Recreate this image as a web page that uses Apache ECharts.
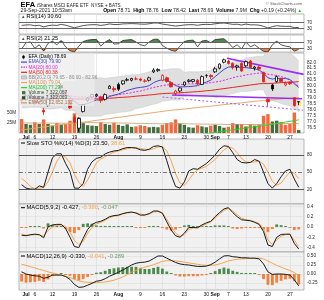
<!DOCTYPE html>
<html>
<head>
<meta charset="utf-8">
<script src="https://cdn.jsdelivr.net/npm/echarts@6.0.0/dist/echarts.min.js"></script>
<style>
html,body{margin:0;padding:0;background:#ffffff;}
#chart{width:324px;height:300px;}
</style>
</head>
<body>
<div id="chart"></div>
<script>
// ---------------- data ----------------
const dates = ['2021-06-30','2021-07-01','2021-07-02','2021-07-06','2021-07-07','2021-07-08','2021-07-09','2021-07-12','2021-07-13','2021-07-14','2021-07-15','2021-07-16','2021-07-19','2021-07-20','2021-07-21','2021-07-22','2021-07-23','2021-07-26','2021-07-27','2021-07-28','2021-07-29','2021-07-30','2021-08-02','2021-08-03','2021-08-04','2021-08-05','2021-08-06','2021-08-09','2021-08-10','2021-08-11','2021-08-12','2021-08-13','2021-08-16','2021-08-17','2021-08-18','2021-08-19','2021-08-20','2021-08-23','2021-08-24','2021-08-25','2021-08-26','2021-08-27','2021-08-30','2021-08-31','2021-09-01','2021-09-02','2021-09-03','2021-09-07','2021-09-08','2021-09-09','2021-09-10','2021-09-13','2021-09-14','2021-09-15','2021-09-16','2021-09-17','2021-09-20','2021-09-21','2021-09-22','2021-09-23','2021-09-24','2021-09-27','2021-09-28','2021-09-29'];
const tickDates = ['2021-07-01','2021-07-06','2021-07-12','2021-07-19','2021-07-26','2021-08-02','2021-08-09','2021-08-16','2021-08-23','2021-08-30','2021-09-01','2021-09-07','2021-09-13','2021-09-20','2021-09-27'];
const tickText = ['Jul','6','12','19','26','Aug','9','16','23','30','Sep','7','13','20','27'];
const monthTicks = ['Jul','Aug','Sep'];
const priceTicks = [76.5,77.0,77.5,78.0,78.5,79.0,79.5,80.0,80.5,81.0,81.5,82.0];
const volumeTicks = [25,50];
const rsiTicks = [70,30];
const stoTicks = [80,50,20];
const macdFastTicks = [0.4,0.2,0.0,-0.2,-0.4];
const macdSlowTicks = [0.5,0.25,0.0,-0.25];

const open  = [78.9,78.9,79.3,79.0,78.7,78.0,78.4,79.1,79.4,80.05, 79.6,78.8,77.4,76.5,77.9,78.8,79.1,79.2,79.1,78.9, 79.8,79.8,80.15,80.2,80.5,80.5,80.6,80.6,80.4,80.5, 81.2,81.3,80.5,80.7,80.3,79.4,79.6,80.1,80.4,80.4, 80.5,80.15,80.9,80.9,81.2,81.5,82.0,82.1,81.9,81.6, 81.9,81.7,82.1,81.5,81.6,81.16,78.9,80.1,80.38,80.6, 80.1,80.35,79.04,78.71];
const high  = [79.1,79.3,79.5,79.1,79.0,78.2,79.0,79.4,79.5,80.25, 79.7,78.9,77.6,77.4,78.5,79.1,79.35,79.4,79.2,79.4, 80.1,80.0,80.3,80.5,80.7,80.7,80.8,80.7,80.6,80.8, 81.5,81.5,81.0,80.8,80.4,79.7,79.9,80.4,80.6,80.6, 80.6,80.9,81.0,81.0,81.6,81.9,82.3,82.2,82.0,81.8, 82.0,82.15,82.2,81.7,81.7,81.2,79.1,80.2,80.9,80.7, 80.4,80.4,79.1,78.76];
const low   = [78.6,78.8,79.1,78.4,78.5,77.6,78.3,79.0,79.0,79.7, 79.2,78.1,76.8,76.2,77.8,78.7,79.0,79.1,78.6,78.8, 79.8,79.5,79.6,80.1,80.4,80.4,80.5,80.4,80.3,80.4, 81.1,81.2,80.4,80.3,79.9,79.2,79.5,80.0,80.3,80.3, 80.1,80.1,80.7,80.6,81.1,81.4,81.9,81.8,81.4,81.3, 81.2,81.6,81.5,81.3,81.3,80.3,78.3,79.6,80.3,80.3, 80.0,80.1,78.3,78.42];
const close = [78.8,79.2,79.3,78.6,78.9,77.85,78.9,79.3,79.1,79.85, 79.3,78.2,77.0,77.3,78.45,79.0,79.3,79.3,78.8,79.3, 80.0,79.7,79.75,80.45,80.55,80.65,80.6,80.5,80.45,80.7, 81.35,81.4,80.9,80.4,79.95,79.6,79.85,80.35,80.5,80.55, 80.2,80.8,80.9,80.8,81.45,81.85,82.2,81.9,81.55,81.7, 81.27,82.05,81.55,81.6,81.43,80.38,78.7,79.77,80.8,80.4, 80.25,80.2,78.38,78.69];
const volumeM = [34,22,20,26,22,33,22,18,24,20, 22,30,48,38,24,19,18,17,26,22, 20,25,20,17,21,15,16,19,17,14, 15,14,20,24,26,33,23,20,14,13, 19,16,14,18,20,17,13,15,24,22, 22,16,21,18,20,42,46,28,30,27, 20,22,50,7.3];
const volEma50 = [24.5,24.4,24.3,24.3,24.2,24.3,24.2,24.0,24.0,23.9, 23.9,24.1,25.0,25.5,25.5,25.3,25.1,24.9,24.9,24.8, 24.6,24.6,24.4,24.2,24.1,23.8,23.6,23.4,23.2,23.0, 22.8,22.6,22.5,22.5,22.6,22.8,22.8,22.7,22.4,22.1, 22.0,21.8,21.6,21.5,21.4,21.3,21.0,20.8,20.9,20.9, 20.9,20.7,20.7,20.6,20.6,21.4,22.4,22.6,22.9,23.1, 23.0,23.0,23.7,22.65];
const ema30 = [79.0,79.05,79.1,79.05,79.0,78.85,78.85,78.95,79.0,79.3, 79.3,79.1,78.75,78.45,78.45,78.55,78.7,78.85,78.85,78.95, 79.15,79.25,79.35,79.5,79.65,79.75,79.85,79.9,79.95,80.05, 80.3,80.45,80.55,80.5,80.3,80.05,79.95,79.95,79.97,80.0, 80.05,80.2,80.35,80.5,80.8,81.1,81.4,81.6,81.62,81.6, 81.55,81.55,81.5,81.45,81.35,81.1,80.7,80.6,80.65,80.65, 80.65,80.55,80.2,79.9];
const ma20 = [79.1,79.1,79.15,79.15,79.15,79.1,79.1,79.1,79.15,79.2, 79.2,79.2,79.15,79.1,79.1,79.1,79.1,79.1,79.1,79.15, 79.2,79.25,79.3,79.35,79.4,79.45,79.55,79.6,79.7,79.8, 79.9,79.97,80.05,80.1,80.15,80.15,80.15,80.15,80.2,80.2, 80.2,80.22,80.25,80.3,80.35,80.4,80.5,80.6,80.7,80.8, 80.85,80.95,81.0,81.05,81.1,81.1,81.0,80.95,80.9,80.8, 80.7,80.55,80.3,80.0];
const ma50 = [78.95,78.95,78.95,78.95,78.95,78.95,78.95,78.95,78.95,78.97, 78.97,78.97,78.95,78.93,78.93,78.93,78.93,78.95,78.95,78.97, 79.0,79.02,79.05,79.08,79.1,79.13,79.17,79.2,79.23,79.27, 79.3,79.35,79.38,79.4,79.42,79.43,79.45,79.48,79.5,79.53, 79.55,79.58,79.62,79.65,79.7,79.75,79.8,79.85,79.9,79.95, 80.0,80.05,80.1,80.15,80.2,80.22,80.22,80.24,80.27,80.3, 80.32,80.34,80.35,80.38];
const ma100 = [76.35,76.4,76.45,76.5,76.55,76.6,76.65,76.7,76.75,76.8, 76.85,76.9,76.93,76.96,77.0,77.05,77.1,77.15,77.2,77.25, 77.3,77.35,77.4,77.45,77.5,77.55,77.6,77.65,77.7,77.75, 77.8,77.85,77.9,77.95,78.0,78.03,78.06,78.1,78.14,78.18, 78.22,78.26,78.3,78.34,78.38,78.42,78.46,78.5,78.54,78.58, 78.62,78.66,78.7,78.74,78.78,78.81,78.84,78.87,78.9,78.93, 78.96,78.99,79.02,79.04];
const ma200 = [74.0,74.05,74.1,74.15,74.2,74.25,74.3,74.35,74.4,74.45, 74.5,74.55,74.6,74.65,74.7,74.75,74.8,74.85,74.9,74.95, 75.0,75.05,75.1,75.15,75.2,75.25,75.3,75.35,75.4,75.45, 75.5,75.55,75.6,75.65,75.7,75.74,75.78,75.82,75.86,75.9, 75.95,76.0,76.05,76.1,76.15,76.2,76.26,76.31,76.37,76.42, 76.47,76.52,76.57,76.62,76.67,76.72,76.78,76.83,76.89,76.95, 77.01,77.07,77.13,77.2];
const bbUpper = [80.0,80.0,80.05,80.05,80.05,80.1,80.1,80.1,80.15,80.2, 80.4,80.4,80.35,80.7,80.7,80.7,80.7,80.7,80.7,80.65, 80.7,80.75,80.8,80.85,80.9,80.95,80.95,81.0,81.1,81.2, 81.3,81.37,81.35,81.4,81.45,81.45,81.45,81.15,81.2,81.2, 81.2,81.22,81.25,81.3,81.65,81.7,81.8,81.9,82.0,82.1, 82.15,82.35,82.4,82.45,82.5,82.5,83.1,83.1,83.1,83.05, 82.95,82.75,82.5,82.1];
const bbLower = [78.2,78.2,78.25,78.25,78.25,78.1,78.1,78.1,78.15,78.2, 78.0,78.0,77.95,77.5,77.5,77.5,77.5,77.5,77.5,77.65, 77.7,77.75,77.8,77.85,77.9,77.95,78.15,78.2,78.3,78.4, 78.5,78.57,78.75,78.8,78.85,78.85,78.85,79.15,79.2,79.2, 79.2,79.22,79.25,79.3,79.05,79.1,79.2,79.3,79.4,79.5, 79.55,79.55,79.6,79.65,79.7,79.7,78.9,78.8,78.7,78.55, 78.45,78.35,78.1,77.9];
const trendUpper  = [[46.7,82.33],[64.1,80.99]];
const trendLower  = [[34.2,79.27],[63.8,78.95]];
const trendDotted = [[32,79.1],[64,78.0]];

const rsi14 = [52,55,56,50,53,42,50,54,52,59, 54,45,36,44,51,55,57,57,52,56, 62,58,58,62,63,64,63,61,60,63, 68,68,61,57,52,48,51,55,57,57, 53,58,59,58,63,66,68,64,59,60, 55,61,56,56,54,46,35,44,50,47, 46,46,37,38.6];
const rsi2 = [25,70,75,30,55,10,65,80,55,85, 40,12,4,45,78,88,92,93,45,75, 92,60,62,85,90,92,75,55,48,75, 94,95,50,30,15,8,45,78,86,88, 40,82,86,70,92,96,98,70,35,55, 25,75,40,55,30,8,3,55,80,55, 45,40,10,21.25];
const stoK = [28,22,20.5,20,26,23.5,50,75,82,82, 65,51,22,22,30,55,68,74,76,82, 85,87,88,91,93,93,92,89,88,90, 95,96,94,70,45,25,22,33,52,56, 55,60,65,72,80,90,96,95,84,72, 67,66,67,72,69,50,30,22,30,42, 52,55,38,23.5];
const stoD = [39,33,25,21,22,23,33,50,69,80, 76,66,46,32,25,36,51,66,73,77, 81,85,87,89,91,92,93,91,90,89, 91,94,95,87,70,47,31,27,36,47, 54,57,60,66,72,81,89,94,92,84, 74,68,67,68,69,64,50,34,27,31, 41,50,48,38.61];
const macdFast = [-0.16,-0.17,-0.15,-0.14,-0.15,-0.21,0.0,0.04,0.05,0.05, -0.03,-0.2,-0.38,-0.40,-0.22,-0.05,0.05,0.09,0.11,0.15, 0.2,0.22,0.23,0.26,0.28,0.29,0.27,0.23,0.23,0.26, 0.31,0.31,0.265,0.1,-0.06,-0.17,-0.2,-0.12,-0.01,-0.01, -0.015,0.04,0.08,0.11,0.2,0.28,0.35,0.375,0.28,0.2, 0.14,0.13,0.12,0.09,0.05,-0.09,-0.35,-0.38,-0.2,-0.145, -0.14,-0.14,-0.32,-0.427];
const macdFastSignal = [-0.14,-0.16,-0.16,-0.15,-0.15,-0.18,-0.07,0.0,0.03,0.04, 0.01,-0.1,-0.26,-0.34,-0.28,-0.12,-0.01,0.06,0.09,0.13, 0.18,0.21,0.22,0.25,0.27,0.28,0.28,0.25,0.24,0.25, 0.29,0.3,0.28,0.15,0.01,-0.12,-0.18,-0.15,-0.05,-0.02, -0.015,0.02,0.06,0.1,0.17,0.25,0.32,0.36,0.31,0.24, 0.17,0.14,0.13,0.1,0.07,-0.04,-0.25,-0.34,-0.25,-0.18, -0.15,-0.14,-0.26,-0.38];
const macdFastHist = [-0.02,-0.01,0.01,0.01,0.005,-0.03,0.07,0.04,0.02,0.01, -0.04,-0.1,-0.12,-0.06,0.06,0.07,0.06,0.03,0.02,0.02, 0.02,0.01,0.01,0.01,0.01,0.01,-0.01,-0.02,-0.01,0.01, 0.02,0.01,-0.015,-0.05,-0.07,-0.05,-0.02,0.03,0.04,0.01, 0.005,0.02,0.02,0.01,0.03,0.03,0.03,0.015,-0.03,-0.04, -0.03,-0.01,-0.01,-0.01,-0.02,-0.05,-0.1,-0.04,0.05,0.035, 0.01,-0.005,-0.06,-0.047];
const macdSlow = [0.06,0.0,-0.03,-0.05,-0.06,-0.12,-0.09,-0.03,-0.03,-0.03, -0.07,-0.15,-0.29,-0.37,-0.36,-0.31,-0.26,-0.2,-0.18,-0.13, -0.06,-0.01,0.05,0.11,0.18,0.25,0.3,0.32,0.33,0.36, 0.43,0.5,0.5,0.44,0.38,0.32,0.28,0.26,0.25,0.23, 0.21,0.21,0.22,0.26,0.33,0.42,0.5,0.51,0.48,0.47, 0.45,0.45,0.44,0.44,0.42,0.28,0.06,-0.01,0.0,0.0, -0.01,-0.03,-0.16,-0.33];
const macdSlowSignal = [0.27,0.24,0.2,0.17,0.13,0.1,0.06,0.03,0.0,-0.03, -0.06,-0.1,-0.15,-0.19,-0.22,-0.23,-0.235,-0.235,-0.23,-0.22, -0.2,-0.17,-0.13,-0.08,-0.02,0.05,0.1,0.15,0.19,0.22, 0.26,0.3,0.35,0.37,0.37,0.36,0.35,0.33,0.31,0.29, 0.27,0.25,0.24,0.24,0.25,0.28,0.32,0.36,0.39,0.41, 0.42,0.43,0.43,0.44,0.44,0.42,0.36,0.3,0.24,0.19, 0.14,0.1,0.04,-0.041];
const macdSlowHist = [-0.21,-0.24,-0.23,-0.22,-0.19,-0.22,-0.15,-0.06,-0.03,0.005, -0.01,-0.05,-0.14,-0.18,-0.14,-0.08,-0.025,0.035,0.05,0.09, 0.14,0.16,0.18,0.19,0.2,0.2,0.2,0.17,0.14,0.14, 0.17,0.2,0.15,0.07,0.01,-0.04,-0.07,-0.07,-0.06,-0.06, -0.06,-0.04,-0.02,0.02,0.08,0.14,0.18,0.15,0.09,0.06, 0.03,0.02,0.01,0.005,-0.02,-0.14,-0.3,-0.31,-0.24,-0.19, -0.15,-0.13,-0.2,-0.289];

// ---------------- build ----------------
const FONT = '"Liberation Sans", Arial, sans-serif';
const idx = d => dates.indexOf(d);
const tickIdx = tickDates.map(idx);
const tickLabelOf = {};
tickIdx.forEach((v, k) => { tickLabelOf[v] = tickText[k]; });
const pts = arr => arr.map((v, i) => [i, v]);

const PRICE_BG = '#ffffff';
const COL = {
  up: '#000000', down: '#e0201c',
  volUp: '#44703f', volDown: '#f26a3c',
  ema: '#4646c8', ma20: '#e61ee6', ma50: '#e8231e', ma100: '#e8a868', ma200: '#2ad62a',
  band: '#dfdfdf', purple: '#9a2cf2', stoD: '#f5a54c', green: '#4c8a4c', orange: '#f0803c'
};

const GRIDS = [
  {top: 14, height: 20, bg: '#ffffff'},
  {top: 35, height: 17, bg: '#ffffff'},
  {top: 53, height: 80, bg: PRICE_BG},
  {top: 139, height: 65, bg: '#f1f1f1'},
  {top: 204, height: 48, bg: '#f1f1f1'},
  {top: 252, height: 38, bg: '#f1f1f1'}
];

const xAxes = GRIDS.map((g, k) => ({
  type: 'value', gridIndex: k, min: -0.6, max: 64.2,
  axisLine: {show: false},
  axisTick: {show: false, customValues: tickIdx},
  splitLine: {show: true, lineStyle: {color: '#d4d4d4', width: 0.5}},
  axisLabel: {
    show: k === 2 || k === 5, customValues: tickIdx, fontSize: 5, margin: 2, color: '#111', fontFamily: FONT,
    formatter: v => {
      const t = tickLabelOf[Math.round(v)] || '';
      return monthTicks.indexOf(t) >= 0 ? '{m|' + t + '}' : t;
    },
    rich: {m: {fontWeight: 'bold', fontSize: 5, color: '#111', fontFamily: FONT}}
  }
}));

function yAx(grid, min, max, ticks, fmt, pos, split) {
  return {
    type: 'value', gridIndex: grid, min, max, position: pos || 'right',
    axisLine: {show: false},
    axisTick: {show: false, customValues: ticks},
    splitLine: {show: !!split, lineStyle: {color: '#d8d8d8', width: 0.5}},
    axisLabel: {customValues: ticks, formatter: fmt, fontSize: 4.6, margin: 3, color: '#222', fontFamily: FONT}
  };
}
const yAxes = [
  yAx(0, -5, 128, rsiTicks, v => String(v)),
  yAx(1, 3, 125, rsiTicks, v => String(v)),
  yAx(2, 76.1, 82.77, priceTicks, v => v.toFixed(1)),
  yAx(2, 0, 195, volumeTicks, v => v + 'M', 'left'),
  yAx(3, -5.7, 107.9, stoTicks, v => String(v)),
  yAx(4, -0.486, 0.446, macdFastTicks, v => v.toFixed(1), 'right', true),
  yAx(5, -0.444, 0.611, macdSlowTicks, v => v.toFixed(2), 'right', true)
];

function line(xi, yi, arr, color, width, extra) {
  return Object.assign({
    type: 'line', xAxisIndex: xi, yAxisIndex: yi, data: pts(arr), symbol: 'none', z: 4,
    silent: true, lineStyle: {color, width: width || 1}, itemStyle: {color}
  }, extra || {});
}
function levels(items) {
  return {silent: true, symbol: 'none', label: {show: false}, animation: false, data: items};
}

const candleData = dates.map((d, i) => {
  const prev = i > 0 ? close[i - 1] : open[i];
  const c = close[i] >= prev ? COL.up : COL.down;
  const hollow = close[i] >= open[i];
  const fill = hollow ? '#ffffff' : c;
  return {value: [i, open[i], close[i], low[i], high[i]],
    itemStyle: {color: fill, color0: fill, borderColor: c, borderColor0: c, borderWidth: 0.8}};
});
const volumeData = volumeM.map((v, i) => {
  const prev = i > 0 ? close[i - 1] : open[i];
  return {value: [i, v], itemStyle: {color: close[i] >= prev ? COL.volUp : COL.volDown}};
});
const histData = arr => arr.map((v, i) => ({value: [i, v], itemStyle: {color: v >= 0 ? COL.green : COL.orange}}));

const series = [
  // Price panel Bollinger band (same construction that rendered: upper area, then lower area masked)
  line(2, 2, bbUpper, '#c6c6c6', 0.5, {z: 2, areaStyle: {origin: 'start', color: COL.band, opacity: 1}}),
  line(2, 2, bbLower, '#c6c6c6', 0.5, {z: 2, areaStyle: {origin: 'start', color: PRICE_BG, opacity: 1}}),
  // RSI(14)
  line(0, 0, rsi14, '#2a2a2a', 0.8, {markLine: levels([
    {yAxis: 70, lineStyle: {color: '#666', width: 1, type: 'solid'}},
    {yAxis: 30, lineStyle: {color: '#666', width: 1, type: 'solid'}}])}),
  // RSI(2) fills + line
  {type: 'line', xAxisIndex: 1, yAxisIndex: 1, symbol: 'none', silent: true, z: 3,
   data: rsi2.map((v, i) => [i, Math.max(v, 70)]), lineStyle: {width: 0},
   areaStyle: {origin: 70, color: COL.green, opacity: 1}},
  {type: 'line', xAxisIndex: 1, yAxisIndex: 1, symbol: 'none', silent: true, z: 3,
   data: rsi2.map((v, i) => [i, Math.min(v, 30)]), lineStyle: {width: 0},
   areaStyle: {origin: 30, color: COL.orange, opacity: 1}},
  line(1, 1, rsi2, '#2a2a2a', 0.8, {markLine: levels([
    {yAxis: 70, lineStyle: {color: '#666', width: 1, type: 'solid'}},
    {yAxis: 30, lineStyle: {color: '#666', width: 1, type: 'solid'}}])}),
  // Price panel marks
  {type: 'bar', xAxisIndex: 2, yAxisIndex: 3, barWidth: 3.4, silent: true, z: 3, data: volumeData},
  line(2, 3, volEma50, '#c79a6a', 0.8),
  line(2, 2, ma200, COL.ma200, 1),
  line(2, 2, ma100, COL.ma100, 1),
  line(2, 2, ma50, COL.ma50, 1),
  line(2, 2, ma20, COL.ma20, 1, {lineStyle: {color: COL.ma20, width: 1, type: [2, 1.5]}}),
  line(2, 2, ema30, COL.ema, 1),
  {type: 'line', xAxisIndex: 2, yAxisIndex: 2, symbol: 'none', silent: true, z: 5, data: trendUpper, lineStyle: {color: COL.purple, width: 1.6}},
  {type: 'line', xAxisIndex: 2, yAxisIndex: 2, symbol: 'none', silent: true, z: 5, data: trendLower, lineStyle: {color: COL.purple, width: 1.6}},
  {type: 'line', xAxisIndex: 2, yAxisIndex: 2, symbol: 'none', silent: true, z: 5, data: trendDotted, lineStyle: {color: '#b060f0', width: 1, type: [2, 2]}},
  {type: 'candlestick', xAxisIndex: 2, yAxisIndex: 2, barWidth: 3, silent: true, z: 6,
   encode: {x: 0, y: [1, 2, 3, 4]}, data: candleData,
   markArea: {silent: true, itemStyle: {color: '#f6ee2a', opacity: 0.85},
     data: [[{coord: [62.45, high[63] + 0.08]}, {coord: [63.55, low[63] - 0.08]}]]}},
  // stochastic
  line(3, 4, stoD, COL.stoD, 1, {markLine: levels([
    {yAxis: 50, lineStyle: {color: '#555', width: 0.8, type: [4, 2, 1, 2]}}])}),
  line(3, 4, stoK, '#1a1a1a', 1, {markLine: levels([
    {yAxis: 80, lineStyle: {color: '#555', width: 1, type: 'solid'}},
    {yAxis: 20, lineStyle: {color: '#555', width: 1, type: 'solid'}}])}),
  // MACD(5,9,2)
  {type: 'bar', xAxisIndex: 4, yAxisIndex: 5, barWidth: 2.8, barMinHeight: 1, silent: true, z: 3, data: histData(macdFastHist)},
  line(4, 5, macdFastSignal, COL.stoD, 1),
  line(4, 5, macdFast, '#1a1a1a', 1),
  // MACD(12,26,9)
  {type: 'bar', xAxisIndex: 5, yAxisIndex: 6, barWidth: 2.8, barMinHeight: 1, silent: true, z: 3, data: histData(macdSlowHist)},
  line(5, 6, macdSlowSignal, COL.stoD, 1),
  line(5, 6, macdSlow, '#1a1a1a', 1)
];

// ---------------- texts ----------------
function T(text, x, y, size, extra) {
  return {type: 'text', x, y, z: 100, silent: true,
    style: Object.assign({text, fontSize: size, fontFamily: FONT, fill: '#000', align: 'left', verticalAlign: 'middle'}, extra || {})};
}
function L(x1, y, x2, color, width, dash) {
  return {type: 'line', z: 100, silent: true, shape: {x1, y1: y, x2, y2: y},
    style: {stroke: color, lineWidth: width || 1, lineDash: dash || null}};
}
function R(x, y, w, h, fill, stroke) {
  return {type: 'rect', z: 99, silent: true, shape: {x, y, width: w, height: h},
    style: {fill, stroke: stroke || null, lineWidth: 0.5}};
}

const legendRows = [
  {text: 'EFA (Daily) 78.69', color: '#000', icon: 'candle'},
  {text: 'EMA(30) 79.90', color: COL.ema, icon: 'line'},
  {text: 'MA(20) 80.00', color: COL.ma20, icon: 'dash'},
  {text: 'MA(50) 80.38', color: COL.ma50, icon: 'line'},
  {text: 'BB(20,2.0) 79.65 - 80.00 - 82.96', color: '#8a8a8a', icon: 'box'},
  {text: 'MA(100) 79.04', color: '#d89050', icon: 'line', line: COL.ma100},
  {text: 'MA(200) 77.29', color: '#1fc21f', icon: 'line', line: COL.ma200},
  {text: 'Volume 7,322,067', color: '#2f4f2f', icon: 'vol', line: COL.volUp},
  {text: 'Volume 7,322,069', color: '#2f4f2f', icon: 'vol', line: '#2f4f2f'},
  {text: 'EMA(50) 22,652,132', color: '#a07850', icon: 'line', line: '#c79a6a'}
];
const graphics = [];
graphics.push(R(19.5, 53.5, 75, 52.5, 'rgba(236,236,236,0.75)'));
legendRows.forEach((r, k) => {
  const y = 57 + 5.1 * k;
  const lc = r.line || r.color;
  if (r.icon === 'candle') {
    graphics.push({type: 'line', z: 100, silent: true, shape: {x1: 23.5, y1: y - 2.2, x2: 23.5, y2: y + 2.2}, style: {stroke: '#000', lineWidth: 0.6}});
    graphics.push(R(22.3, y - 1.2, 2.4, 2.4, '#000'));
  } else if (r.icon === 'box') {
    graphics.push(R(21.5, y - 1.6, 5, 3.2, '#d0d0d0', '#999'));
  } else if (r.icon === 'vol') {
    graphics.push(R(22, y - 1.6, 3.4, 3.2, lc));
  } else {
    graphics.push(L(21, y, 27, lc, 1.2, r.icon === 'dash' ? [1.5, 1] : null));
  }
  graphics.push(T(r.text, 28.5, y, 4.8, {fill: r.color}));
});

// header
graphics.push(T('EFA', 20.5, 5, 7.5, {fontWeight: 'bold'}));
graphics.push(T('iShares MSCI EAFE ETF  NYSE + BATS', 37, 5.3, 4.6, {fill: '#222'}));
graphics.push(T('\u00A9 StockCharts.com', 302, 4.3, 4.2, {fill: '#555', align: 'right'}));
graphics.push(T('29-Sep-2021 10:53am', 20.5, 11, 5.2, {fill: '#222'}));
graphics.push(T('{b|Open} 78.71  {b|High} 78.76  {b|Low} 78.42  {b|Last} 78.69  {b|Volume} 7.9M  {b|Chg} +0.19 (+0.24%) {g|\u25B2}',
  302, 11, 5.1, {align: 'right', fill: '#222',
  rich: {b: {fontWeight: 'bold', fontSize: 5.1, fontFamily: FONT, fill: '#000'}, g: {fontSize: 4.5, fill: '#22aa22', fontFamily: FONT}}}));

// panel titles
graphics.push(T('\u25B2', 21, 16.5, 4.5, {fill: '#2c5f2c'}));
graphics.push(T('RSI(14) 30.60', 26.5, 16.5, 5.6));
graphics.push(T('\u25B2', 21, 38.5, 4.5, {fill: '#2c5f2c'}));
graphics.push(T('RSI(2) 21.25', 26.5, 38.5, 5.6));
graphics.push(L(21, 143, 25, '#000', 1));
graphics.push(T('Slow STO %K(14) %D(3) 23.50, {o|38.61}', 26.5, 143, 5.8, {rich: {o: {fill: COL.stoD, fontSize: 5.8, fontFamily: FONT}}}));
graphics.push(L(21, 207.7, 25, '#000', 1));
graphics.push(T('MACD(5,9,2) -0.427, {o|-0.380}, {g|-0.047}', 26.5, 207.7, 5.8,
  {rich: {o: {fill: COL.stoD, fontSize: 5.8, fontFamily: FONT}, g: {fill: '#6a9a6a', fontSize: 5.8, fontFamily: FONT}}}));
graphics.push(L(21, 256, 25, '#000', 1));
graphics.push(T('MACD(12,26,9) -0.330, {o|-0.041}, {g|-0.289}', 26.5, 256, 5.8,
  {rich: {o: {fill: COL.stoD, fontSize: 5.8, fontFamily: FONT}, g: {fill: '#6a9a6a', fontSize: 5.8, fontFamily: FONT}}}));

const chart = echarts.init(document.getElementById('chart'), null, {renderer: 'canvas'});
chart.setOption({
  animation: false,
  backgroundColor: '#ffffff',
  textStyle: {fontFamily: FONT},
  grid: GRIDS.map(g => ({left: 19, right: 20, top: g.top, height: g.height, show: true,
    backgroundColor: g.bg, borderColor: '#8c8c8c', borderWidth: 0.6})),
  xAxis: xAxes,
  yAxis: yAxes,
  series,
  graphic: graphics
});
</script>
</body>
</html>
